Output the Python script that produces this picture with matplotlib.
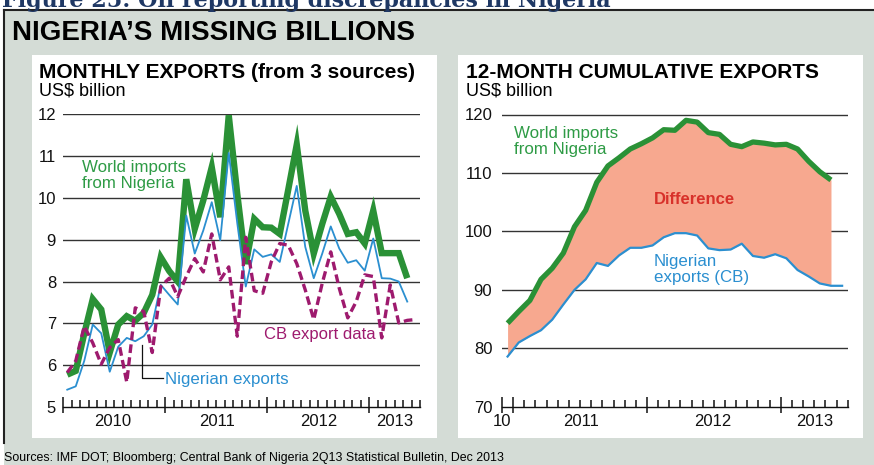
import matplotlib
matplotlib.use("Agg")
import matplotlib.pyplot as plt
import matplotlib.transforms as mtransforms
from matplotlib import font_manager
from matplotlib.patches import Rectangle
from matplotlib.lines import Line2D

# ---------------------------------------------------------------- data
# Monthly exports, US$ billion, one value per month starting Jan 2010
world_imports_monthly = [5.77, 5.86, 6.75, 7.58, 7.33, 6.30, 6.97, 7.17, 7.06, 7.25, 7.68, 8.58,
                         8.25, 8.00, 10.45, 9.26, 9.94, 10.74, 9.54, 11.98, 10.10, 8.42, 9.50, 9.30,
                         9.29, 9.14, 10.20, 11.28, 9.70, 8.67, 9.38, 10.03, 9.62, 9.14, 9.18, 8.91,
                         9.70, 8.68, 8.68, 8.68, 8.08]
nigerian_exports_monthly = [5.41, 5.49, 6.10, 6.97, 6.76, 5.84, 6.44, 6.65, 6.57, 6.69, 6.97, 7.92,
                            7.68, 7.45, 9.58, 8.67, 9.22, 9.90, 8.99, 11.08, 9.40, 7.88, 8.77, 8.59,
                            8.65, 8.47, 9.38, 10.29, 8.83, 8.08, 8.67, 9.32, 8.79, 8.45, 8.51, 8.26,
                            9.03, 8.08, 8.07, 8.00, 7.52]
cb_exports_monthly = [5.82, 6.10, 6.93, 6.53, 6.02, 6.42, 6.61, 5.59, 7.37, 7.28, 6.30, 7.88,
                      8.08, 7.64, 8.12, 8.55, 8.23, 9.14, 8.04, 8.35, 6.69, 9.06, 7.78, 7.72,
                      8.47, 8.91, 8.87, 8.43, 7.80, 7.09, 7.96, 8.71, 7.84, 7.13, 7.52, 8.16,
                      8.12, 6.65, 7.92, 7.01, 7.07, 7.09]

# 12-month cumulative exports, US$ billion, one value per month starting Dec 2010
world_imports_12m = [84.3, 86.3, 88.2, 91.8, 93.7, 96.3, 100.8, 103.6, 108.4, 111.2, 112.6, 114.1,
                     115.0, 116.0, 117.4, 117.3, 119.0, 118.7, 116.9, 116.6, 114.9, 114.5, 115.3, 115.1,
                     114.8, 114.9, 114.1, 112.0, 110.2, 108.8]
nigerian_exports_12m = [78.6, 81.0, 82.1, 83.1, 84.9, 87.5, 90.0, 91.8, 94.6, 94.1, 95.9, 97.2,
                        97.2, 97.6, 99.0, 99.7, 99.7, 99.3, 97.1, 96.8, 96.9, 97.9, 95.8, 95.5,
                        96.1, 95.4, 93.4, 92.3, 91.1, 90.7, 90.7]

monthly_years = ["2010", "2011", "2012", "2013"]
cumulative_years = ["10", "2011", "2012", "2013"]
monthly_yticks = [5, 6, 7, 8, 9, 10, 11, 12]
cumulative_yticks = [70, 80, 90, 100, 110, 120]

# ---------------------------------------------------------------- style
def has_font(name):
    return any(f.name == name for f in font_manager.fontManager.ttflist)

SANS = "Liberation Sans" if has_font("Liberation Sans") else "DejaVu Sans"
plt.rcParams["font.family"] = [SANS, "DejaVu Sans"]

GREEN = "#2a9136"
GREEN_TXT = "#2e9b45"
BLUE = "#2b8fd0"
PURPLE = "#9e1a6e"
SALMON = "#f7a88f"
RED = "#d8312a"
PANEL_BG = "#d4dcd6"
NAVY = "#1f3864"
GRID = "#333333"
INK = "#111111"

W, H = 874, 465
fig = plt.figure(figsize=(W / 100, H / 100), dpi=100)


def fx(x):
    return x / W


def fy(y):
    return 1 - y / H


# outer grey frame
fig.patches.append(Rectangle((fx(4), 0), 1 - fx(4), fy(10), transform=fig.transFigure,
                             facecolor=PANEL_BG, edgecolor="none", zorder=-3))
fig.lines.append(Line2D([fx(4), 1], [fy(10), fy(10)], transform=fig.transFigure,
                        color="#222222", lw=1.5, zorder=-2))
fig.lines.append(Line2D([fx(4), fx(4)], [fy(10), fy(443)], transform=fig.transFigure,
                        color="#222222", lw=1.5, zorder=-2))

# white chart panels
for x0, x1 in [(32, 437), (458, 863)]:
    fig.patches.append(Rectangle((fx(x0), fy(438)), fx(x1) - fx(x0), fy(55) - fy(438),
                                 transform=fig.transFigure, facecolor="white",
                                 edgecolor="none", zorder=-1))

# headings
fig.text(fx(2), fy(6.5), "Figure 25: Oil reporting discrepancies in Nigeria", color=NAVY,
         family=["DejaVu Serif"], fontweight="bold", fontsize=16, va="baseline", ha="left")
fig.text(fx(12), fy(40), "NIGERIA\u2019S MISSING BILLIONS", fontweight="bold",
         fontsize=20, va="baseline", ha="left")

fig.text(fx(39), fy(78), "MONTHLY EXPORTS (from 3 sources)", fontweight="bold",
         fontsize=15, va="baseline", ha="left")
fig.text(fx(39), fy(95), "US$ billion", fontsize=13, va="baseline", ha="left")
fig.text(fx(466), fy(78), "12-MONTH CUMULATIVE EXPORTS", fontweight="bold",
         fontsize=15, va="baseline", ha="left")
fig.text(fx(466), fy(95), "US$ billion", fontsize=13, va="baseline", ha="left")

fig.text(fx(4), fy(461),
         "Sources: IMF DOT; Bloomberg; Central Bank of Nigeria 2Q13 Statistical Bulletin, Dec 2013",
         fontsize=8.9, va="baseline", ha="left")

AX_TOP, AX_BOT = 114.5, 406.8
ax_bottom = fy(AX_BOT)
ax_height = fy(AX_TOP) - fy(AX_BOT)
ax1 = fig.add_axes([fx(63), ax_bottom, fx(420) - fx(63), ax_height])
ax2 = fig.add_axes([fx(502), ax_bottom, fx(847.7) - fx(502), ax_height])


def style_axis(ax, n_months, year_starts, yticks, ypad, year_pos, year_labels):
    ax.set_facecolor("none")
    for side in ["left", "right", "top"]:
        ax.spines[side].set_visible(False)
    ax.spines["bottom"].set_color(INK)
    ax.spines["bottom"].set_linewidth(1.0)
    ax.set_xlim(0, n_months)
    ax.set_ylim(yticks[0], yticks[-1])
    for v in yticks[1:]:
        ax.axhline(v, color=GRID, lw=1.0, zorder=1)
    ax.set_yticks(yticks)
    ax.set_yticklabels([str(v) for v in yticks])
    ax.tick_params(axis="y", length=0, pad=ypad, labelsize=12, labelcolor=INK)
    ax.set_xticks([])

    # month ticks rise from the baseline; year boundaries cross it
    px = 1.0 / (AX_BOT - AX_TOP)  # one pixel in axes fraction
    trans = mtransforms.blended_transform_factory(ax.transData, ax.transAxes)
    months = [m for m in range(0, n_months + 1) if m not in year_starts]
    ax.vlines(months, 0, 7 * px, transform=trans, color=INK, lw=1.1, clip_on=False,
              zorder=6)
    ax.vlines(year_starts, -6 * px, 10 * px, transform=trans, color=INK, lw=1.1,
              clip_on=False, zorder=6)

    offset = mtransforms.ScaledTranslation(0, -7.5 / 100, fig.dpi_scale_trans)
    for xp, lab in zip(year_pos, year_labels):
        ax.text(xp, 0, lab, transform=trans + offset, ha="center", va="top",
                fontsize=12, color=INK)


# ---------------------------------------------------------------- monthly chart
style_axis(ax1, 42, [0, 12, 24, 36], monthly_yticks, 5.0, [5.9, 18.1, 30.1, 39.0],
           monthly_years)
xm = [i + 0.5 for i in range(len(world_imports_monthly))]
xcb = [i + 0.5 for i in range(len(cb_exports_monthly))]
ax1.plot(xm, world_imports_monthly, color=GREEN, lw=4.6, solid_joinstyle="miter",
         solid_capstyle="butt", zorder=3, clip_on=False)
ax1.plot(xm, nigerian_exports_monthly, color=BLUE, lw=1.3, zorder=4, clip_on=False)
cb_line, = ax1.plot(xcb, cb_exports_monthly, color=PURPLE, lw=2.4, zorder=5, clip_on=False)
cb_line.set_dashes([2.6, 1.3])

ax1.text(2.2, 10.62, "World imports", color=GREEN_TXT, fontsize=12.2, va="baseline", zorder=6)
ax1.text(2.2, 10.24, "from Nigeria", color=GREEN_TXT, fontsize=12.2, va="baseline", zorder=6)
ax1.text(23.7, 6.62, "CB export data", color=PURPLE, fontsize=12.0, va="baseline", zorder=6)
ax1.text(12.0, 5.66, "Nigerian exports", color=BLUE, fontsize=12.2, va="center", zorder=6)
ax1.plot([9.26, 9.26, 11.8], [6.48, 5.68, 5.68], color=INK, lw=0.9, zorder=6)

# ---------------------------------------------------------------- cumulative chart
style_axis(ax2, 31, [0, 1, 13, 25], cumulative_yticks, 7.0, [0.0, 7.1, 18.9, 28.0],
           cumulative_years)
xw = [i + 0.5 for i in range(len(world_imports_12m))]
xn = [i + 0.5 for i in range(len(nigerian_exports_12m))]
ax2.fill_between(xw, world_imports_12m, nigerian_exports_12m[:len(world_imports_12m)],
                 color=SALMON, lw=0, zorder=2)
ax2.plot(xw, world_imports_12m, color=GREEN, lw=3.8, solid_capstyle="butt", zorder=4,
         clip_on=False)
ax2.plot(xn, nigerian_exports_12m, color=BLUE, lw=1.6, zorder=3, clip_on=False)

ax2.text(1.08, 115.9, "World imports", color=GREEN_TXT, fontsize=12.2, va="baseline", zorder=6)
ax2.text(1.08, 113.2, "from Nigeria", color=GREEN_TXT, fontsize=12.2, va="baseline", zorder=6)
ax2.text(13.63, 104.67, "Difference", color=RED, fontsize=12, fontweight="bold",
         va="baseline", zorder=6)
ax2.text(13.63, 94.07, "Nigerian", color=BLUE, fontsize=12.2, va="baseline", zorder=6)
ax2.text(13.63, 91.38, "exports (CB)", color=BLUE, fontsize=12.2, va="baseline", zorder=6)

fig.savefig("out.png", dpi=100)
